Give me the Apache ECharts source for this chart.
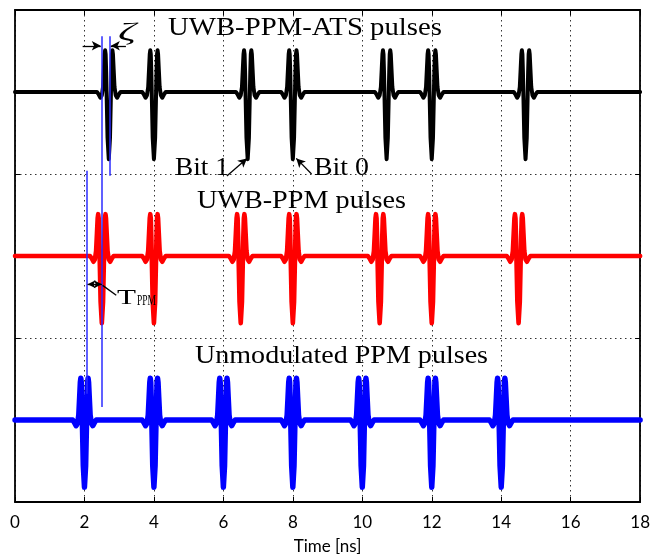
<!DOCTYPE html>
<html><head><meta charset="utf-8">
<script src="https://cdn.jsdelivr.net/npm/echarts@6/dist/echarts.min.js"></script>
<style>html,body{margin:0;padding:0;background:#fff}#c{width:653px;height:560px}</style>
</head><body><div id="c"></div>
<script>
// ---- data ----
const xMin = 0, xMax = 18, xStep = 2;
const yMin = 0, yMax = 3, yStep = 1;
// one pulse: time offsets (ns) and amplitudes (band units)
const pulseOffsets = [-0.34,-0.29,-0.24,-0.20,-0.165,-0.14,-0.12,-0.105,-0.09,-0.075,-0.06,-0.035,0,0.035,0.06,0.075,0.09,0.105,0.12,0.14,0.165,0.20,0.24,0.29,0.34];
const pulseShape   = [0,-0.015,-0.035,-0.02,0.03,0.14,0.23,0.255,0.23,0.12,-0.03,-0.28,-0.41,-0.28,-0.03,0.12,0.23,0.255,0.23,0.14,0.03,-0.02,-0.035,-0.015,0];
const atsTimes   = [2.7, 4, 6.7, 8, 10.7, 12, 14.7];
const ppmTimes   = [2.5, 4, 6.5, 8, 10.5, 12, 14.5];
const unmodTimes = [2, 4, 6, 8, 10, 12, 14];
const atsLevel = 2.5, ppmLevel = 1.5, unmodLevel = 0.5;
// thin blue reference lines: time, top, bottom
const refLineTimes   = [2.06, 2.5, 2.72];
const refLineTops    = [2.02, 2.84, 2.84];
const refLineBottoms = [0.66, 0.58, 1.99];

function buildTrace(times, level) {
  const pts = [[xMin, level]];
  times.forEach(t => pulseOffsets.forEach((o, i) => pts.push([t + o, level + pulseShape[i]])));
  pts.push([xMax, level]);
  return pts;
}

const chart = echarts.init(document.getElementById('c'), null, {renderer: 'canvas'});
const gridLine = {show: true, lineStyle: {color: '#333', width: 1, type: [1.5, 3.5]}};
const frameLine = {show: true, onZero: false, lineStyle: {color: '#000', width: 1.8}};

function traceSeries(data, color, width, z) {
  return {type: 'line', data, showSymbol: false, symbol: 'none', smooth: false, z,
    lineStyle: {color, width, join: 'round', cap: 'round'}, animation: false, silent: true};
}
function seg(a, b) { return [{coord: a}, {coord: b}]; }

const option = {
  animation: false,
  backgroundColor: '#fff',
  grid: {left: 15, right: 10, top: 10, bottom: 55},
  xAxis: [
    {type: 'value', min: xMin, max: xMax, interval: xStep, position: 'bottom',
     axisLine: frameLine, axisTick: {show: true, inside: true, length: 5, lineStyle: {color: '#000'}},
     axisLabel: {color: '#000', fontFamily: 'Lato', fontSize: 17, margin: 12},
     splitLine: gridLine,
     name: 'Time [ns]', nameLocation: 'middle', nameGap: 36,
     nameTextStyle: {color: '#000', fontFamily: 'Lato', fontSize: 17}},
    {type: 'value', min: xMin, max: xMax, interval: xStep, position: 'top',
     axisLine: frameLine, axisTick: {show: true, inside: true, length: 5, lineStyle: {color: '#000'}},
     axisLabel: {show: false}, splitLine: {show: false}}
  ],
  yAxis: [
    {type: 'value', min: yMin, max: yMax, interval: yStep, position: 'left',
     axisLine: frameLine, axisTick: {show: true, inside: true, length: 5, lineStyle: {color: '#000'}},
     axisLabel: {show: false}, splitLine: gridLine},
    {type: 'value', min: yMin, max: yMax, interval: yStep, position: 'right',
     axisLine: frameLine, axisTick: {show: true, inside: true, length: 5, lineStyle: {color: '#000'}},
     axisLabel: {show: false}, splitLine: {show: false}}
  ],
  series: [
    traceSeries(buildTrace(atsTimes, atsLevel), '#000000', 4, 3),
    traceSeries(buildTrace(ppmTimes, ppmLevel), '#ff0000', 4.6, 3),
    traceSeries(buildTrace(unmodTimes, unmodLevel), '#0000ff', 5.4, 3),
    {type: 'line', data: [], z: 5, silent: true,
     markLine: {silent: true, symbol: ['none', 'none'], animation: false, label: {show: false},
       lineStyle: {color: '#2b2bff', width: 1.5, type: 'solid'},
       data: refLineTimes.map((t, i) => seg([t, refLineTops[i]], [t, refLineBottoms[i]]))}},
    {type: 'line', data: [], z: 6, silent: true,
     markLine: {silent: true, symbol: ['none', 'arrow'], symbolSize: [7, 9], animation: false, label: {show: false},
       lineStyle: {color: '#000', width: 1.3, type: 'solid'},
       data: [seg([1.948, 2.782], [2.47, 2.782]), seg([3.194, 2.782], [2.76, 2.782]),
              seg([6.10, 1.988], [6.68, 2.095]), seg([8.539, 2.0], [8.10, 2.095])]}},
    {type: 'line', data: [], z: 6, silent: true,
     markLine: {silent: true, symbol: ['arrow', 'arrow'], symbolSize: [6, 8], animation: false, label: {show: false},
       lineStyle: {color: '#000', width: 1.3, type: 'solid'},
       data: [seg([2.09, 1.327], [2.50, 1.327])]}},
    {type: 'line', data: [], z: 6, silent: true,
     markLine: {silent: true, symbol: ['none', 'none'], animation: false, label: {show: false},
       lineStyle: {color: '#000', width: 1.3, type: 'solid'},
       data: [seg([2.522, 1.321], [2.915, 1.261])]}}
  ]
};
chart.setOption(option);

// ---- text annotations (layout in pixels) ----
const ctx = document.createElement('canvas').getContext('2d');
function fitText(text, left, right, base, size, italic) {
  const font = (italic ? 'italic ' : '') + size + 'px "Liberation Serif"';
  ctx.font = font;
  const w = ctx.measureText(text).width;
  const sx = (right - left) / w;
  return {type: 'text', x: left, y: base - 0.305 * size, scaleX: sx, z: 20, silent: true,
    style: {text, font, fill: '#000', align: 'left', verticalAlign: 'middle'}};
}
chart.setOption({graphic: [
  fitText('UWB-PPM-ATS pulses', 168, 442, 36, 25),
  fitText('UWB-PPM pulses', 197, 406, 209, 25),
  fitText('Unmodulated PPM pulses', 195, 488, 364, 26),
  fitText('Bit 1', 175, 229, 176, 25),
  fitText('Bit 0', 314, 369, 176, 25),
  fitText('\u03B6', 118, 136, 41, 26, true),
  fitText('T', 117, 136, 305, 22),
  fitText('PPM', 137, 156, 306, 15)
]});
</script></body></html>
